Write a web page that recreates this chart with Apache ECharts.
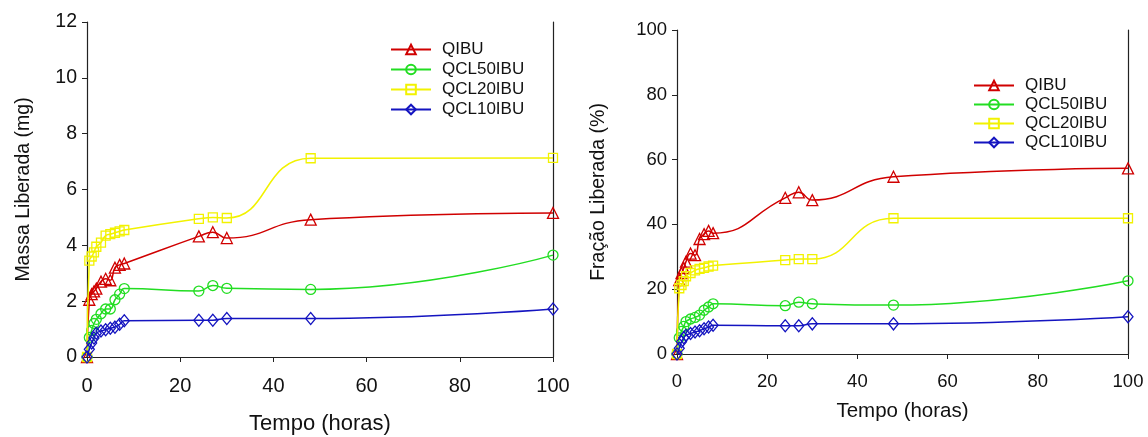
<!DOCTYPE html>
<html>
<head>
<meta charset="utf-8">
<script src="https://cdn.jsdelivr.net/npm/echarts@6/dist/echarts.min.js"></script>
<style>
  html, body { margin: 0; padding: 0; background: #fff; }
  #chart { width: 1148px; height: 437px; }
</style>
</head>
<body>
<div id="chart"></div>
<script>
// ---- data ----
const tempo = [0, 0.5, 1, 1.5, 2, 3, 4, 5, 6, 7, 8, 24, 27, 30, 48, 100];
const seriesNames = ['QIBU', 'QCL50IBU', 'QCL20IBU', 'QCL10IBU'];

const qibuMassa   = [0, 2.05, 2.25, 2.35, 2.45, 2.7, 2.8, 2.75, 3.2, 3.3, 3.35, 4.32, 4.47, 4.26, 4.92, 5.16];
const qcl50Massa  = [0, 0.7, 0.95, 1.2, 1.35, 1.55, 1.72, 1.72, 2.05, 2.25, 2.45, 2.36, 2.56, 2.46, 2.42, 3.65];
const qcl20Massa  = [0, 3.45, 3.6, 3.75, 3.95, 4.1, 4.35, 4.4, 4.45, 4.5, 4.55, 4.95, 5.0, 4.98, 7.12, 7.13];
const qcl10Massa  = [0, 0.28, 0.5, 0.68, 0.85, 0.93, 0.98, 1.03, 1.07, 1.17, 1.3, 1.32, 1.32, 1.38, 1.38, 1.72];

const qibuFracao  = [0, 22.8, 25, 26.5, 28.5, 31, 30.5, 35.5, 37, 38, 37.3, 48.2, 49.9, 47.5, 54.7, 57.3];
const qcl50Fracao = [0, 5, 7, 8.5, 10, 10.8, 11.3, 12, 13.5, 14.5, 15.5, 14.9, 16.0, 15.5, 15.1, 22.6];
const qcl20Fracao = [0, 20.3, 21.3, 22.5, 24, 25, 25.8, 26.3, 26.6, 27, 27.3, 29.0, 29.3, 29.3, 41.9, 41.9];
const qcl10Fracao = [0, 1.8, 3.8, 5, 5.8, 6.3, 6.8, 7.2, 7.8, 8.3, 8.9, 8.7, 8.7, 9.3, 9.3, 11.5];

const xTicks = [0, 20, 40, 60, 80, 100];
const massaTicks = [0, 2, 4, 6, 8, 10, 12];
const fracaoTicks = [0, 20, 40, 60, 80, 100];

// ---- styling ----
const FONT = '"Liberation Sans", Arial, sans-serif';
const colors = ['#d00000', '#22dd22', '#f2f200', '#1414c0'];
const symbols = ['triangle', 'circle', 'rect', 'diamond'];
const symbolSizes = [11, 10, 9, [10, 12]];

function pairs(vals) { return tempo.map((t, i) => [t, vals[i]]); }

function makeSeries(valsList, xi, yi) {
  return valsList.map((vals, k) => ({
    name: seriesNames[k],
    type: 'line',
    xAxisIndex: xi,
    yAxisIndex: yi,
    data: pairs(vals),
    smooth: 0.5,
    symbol: symbols[k],
    symbolSize: symbolSizes[k],
    showAllSymbol: true,
    lineStyle: { color: colors[k], width: 1.5 },
    itemStyle: { color: 'rgba(255,255,255,0)', borderColor: colors[k], borderWidth: 1.3 },
    emphasis: { disabled: true },
    z: 2 + k
  }));
}

function xAxis(gi, tickFont, titleFont, margin, gap) {
  return {
    type: 'value', gridIndex: gi, min: 0, max: 100, interval: 20,
    name: 'Tempo (horas)', nameLocation: 'middle', nameGap: gap,
    nameTextStyle: { fontFamily: FONT, fontSize: titleFont, color: '#111' },
    axisLine: { show: true, onZero: false, lineStyle: { color: '#222', width: 1.2 } },
    axisTick: { show: true, inside: false, length: 5, lineStyle: { color: '#222' } },
    axisLabel: { fontFamily: FONT, fontSize: tickFont, color: '#111', margin: margin,
      formatter: v => xTicks.includes(v) ? String(v) : '' },
    splitLine: { show: false }
  };
}

function yAxis(gi, name, max, interval, ticks, gap, tickFont, titleFont) {
  return {
    type: 'value', gridIndex: gi, min: 0, max: max, interval: interval,
    name: name, nameLocation: 'middle', nameGap: gap, nameRotate: 90,
    nameTextStyle: { fontFamily: FONT, fontSize: titleFont, color: '#111' },
    axisLine: { show: true, onZero: false, lineStyle: { color: '#222', width: 1.2 } },
    axisTick: { show: true, inside: false, length: 5, lineStyle: { color: '#222' } },
    axisLabel: { fontFamily: FONT, fontSize: tickFont, color: '#111', margin: 10,
      formatter: v => ticks.includes(v) ? String(v) : '' },
    splitLine: { show: false }
  };
}

function rightLine(gi, max, interval) {
  return {
    type: 'value', gridIndex: gi, position: 'right', min: 0, max: max, interval: interval,
    axisLine: { show: true, onZero: false, lineStyle: { color: '#222', width: 1.2 } },
    axisTick: { show: false }, axisLabel: { show: false }, splitLine: { show: false }
  };
}

function legend(left, top, gap) {
  return {
    left: left, top: top, orient: 'vertical',
    itemWidth: 40, itemHeight: 12, itemGap: gap,
    data: seriesNames,
    textStyle: { fontFamily: FONT, fontSize: 17, color: '#111', padding: [0, 0, 0, 6] },
    selectedMode: false
  };
}

const chart = echarts.init(document.getElementById('chart'), null, { renderer: 'canvas' });
const option = {
  animation: false,
  backgroundColor: '#fff',
  grid: [
    { left: 87, right: 595, top: 22, bottom: 80, containLabel: false, outerBoundsMode: 'none' },
    { left: 677, right: 20, top: 30, bottom: 83, containLabel: false, outerBoundsMode: 'none' }
  ],
  xAxis: [xAxis(0, 20, 22, 19, 56), xAxis(1, 18.5, 20.5, 18, 47)],
  yAxis: [
    yAxis(0, 'Massa Liberada (mg)', 12, 2, massaTicks, 53, 19.5, 19.5),
    yAxis(1, 'Fração Liberada (%)', 100, 20, fracaoTicks, 68, 18.5, 19.5),
    rightLine(0, 12, 2),
    rightLine(1, 100, 20)
  ],
  legend: [legend(385, 36, 3), legend(968, 72, 2)],
  series: [
    ...makeSeries([qibuMassa, qcl50Massa, qcl20Massa, qcl10Massa], 0, 0),
    ...makeSeries([qibuFracao, qcl50Fracao, qcl20Fracao, qcl10Fracao], 1, 1)
  ]
};
chart.setOption(option);
</script>
</body>
</html>
